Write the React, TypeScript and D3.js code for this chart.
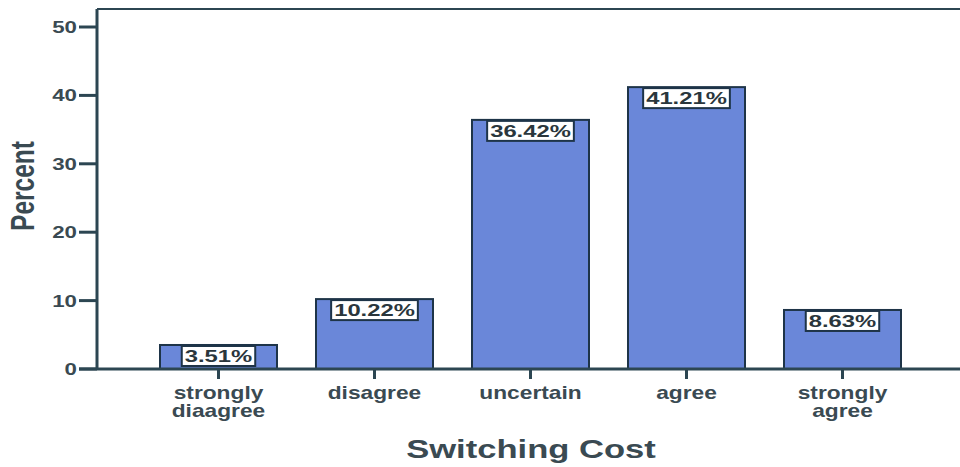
import React from "react";
import * as d3 from "d3";

const categories = ["strongly\ndiaagree", "disagree", "uncertain", "agree", "strongly\nagree"];
const percents = [3.51, 10.22, 36.42, 41.21, 8.63];
const yTicks = [0, 10, 20, 30, 40, 50];

const W = 960;
const H = 467;
const axisColor = "#2c4652";
const textColor = "#3a4a52";
const barFill = "#6a87d9";
const barStroke = "#1e3448";
const font = "Liberation Sans, Arial, sans-serif";
const SX = 1.35; // horizontal stretch of the original rendering

export default function App() {
  const y = d3.scaleLinear().domain([0, 50]).range([369, 27]);
  const x = d3
    .scaleBand<string>()
    .domain(categories)
    .range([140.5, 920.5])
    .paddingInner(0.25)
    .paddingOuter(0.125);
  const left = 97;
  const top = 9;

  return (
    <svg
      width={W}
      height={H}
      style={{ position: "absolute", left: 0, top: 0, background: "#fff" }}
      fontFamily={font}
    >
      <rect x={0} y={0} width={W} height={H} fill="#fff" />
      {/* frame */}
      <line x1={left} x2={W} y1={top} y2={top} stroke={axisColor} strokeWidth={2} />
      <line x1={left} x2={left} y1={top} y2={y(0)} stroke={axisColor} strokeWidth={3} />
      {/* bars */}
      {percents.map((v, i) => {
        const c = categories[i];
        const bx = x(c)!;
        const bw = x.bandwidth();
        const by = y(v);
        return (
          <rect
            key={c}
            x={bx}
            y={by}
            width={bw}
            height={y(0) - by}
            fill={barFill}
            stroke={barStroke}
            strokeWidth={2}
          />
        );
      })}
      <line x1={79} x2={W} y1={y(0)} y2={y(0)} stroke={axisColor} strokeWidth={3} />
      {/* y ticks */}
      {yTicks.map((t) => (
        <g key={t}>
          <line x1={79} x2={left} y1={y(t)} y2={y(t)} stroke={axisColor} strokeWidth={3} />
          <g transform={`translate(77,${y(t)}) scale(${SX},1)`}>
            <text
              dy="0.36em"
              textAnchor="end"
              fontSize={16.5}
              fontWeight="bold"
              fill={textColor}
            >
              {t}
            </text>
          </g>
        </g>
      ))}
      {/* x ticks & labels */}
      {categories.map((c) => {
        const cx = x(c)! + x.bandwidth() / 2;
        const lines = c.split("\n");
        return (
          <g key={c}>
            <line x1={cx} x2={cx} y1={y(0)} y2={y(0) + 10} stroke={axisColor} strokeWidth={3} />
            {lines.map((l, j) => (
              <g key={j} transform={`translate(${cx},${399 + j * 18}) scale(1.3,1)`}>
                <text textAnchor="middle" fontSize={17.5} fontWeight="bold" fill={textColor}>
                  {l}
                </text>
              </g>
            ))}
          </g>
        );
      })}
      {/* value labels */}
      {percents.map((v, i) => {
        const c = categories[i];
        const cx = x(c)! + x.bandwidth() / 2;
        const label = v.toFixed(2) + "%";
        const digits = label.replace(/[^0-9]/g, "").length;
        const tw = (digits * 0.556 + 0.278 + 0.889) * 17 * 1.4;
        const bw = tw + 6;
        const by = y(v) + 1;
        return (
          <g key={"l" + c}>
            <rect
              x={cx - bw / 2}
              y={by}
              width={bw}
              height={20}
              fill="#fff"
              stroke={barStroke}
              strokeWidth={2}
            />
            <g transform={`translate(${cx},${by + 10}) scale(1.4,1)`}>
              <text dy="0.36em" textAnchor="middle" fontSize={17} fontWeight="bold" fill="#2a363c">
                {label}
              </text>
            </g>
          </g>
        );
      })}
      {/* axis titles */}
      <g transform={`translate(34,186) scale(${SX},1) rotate(-90)`}>
        <text textAnchor="middle" fontSize={24.5} fontWeight="bold" fill={textColor}>
          Percent
        </text>
      </g>
      <g transform={`translate(531,458) scale(1.33,1)`}>
        <text textAnchor="middle" fontSize={26} fontWeight="bold" fill={textColor}>
          Switching Cost
        </text>
      </g>
    </svg>
  );
}
